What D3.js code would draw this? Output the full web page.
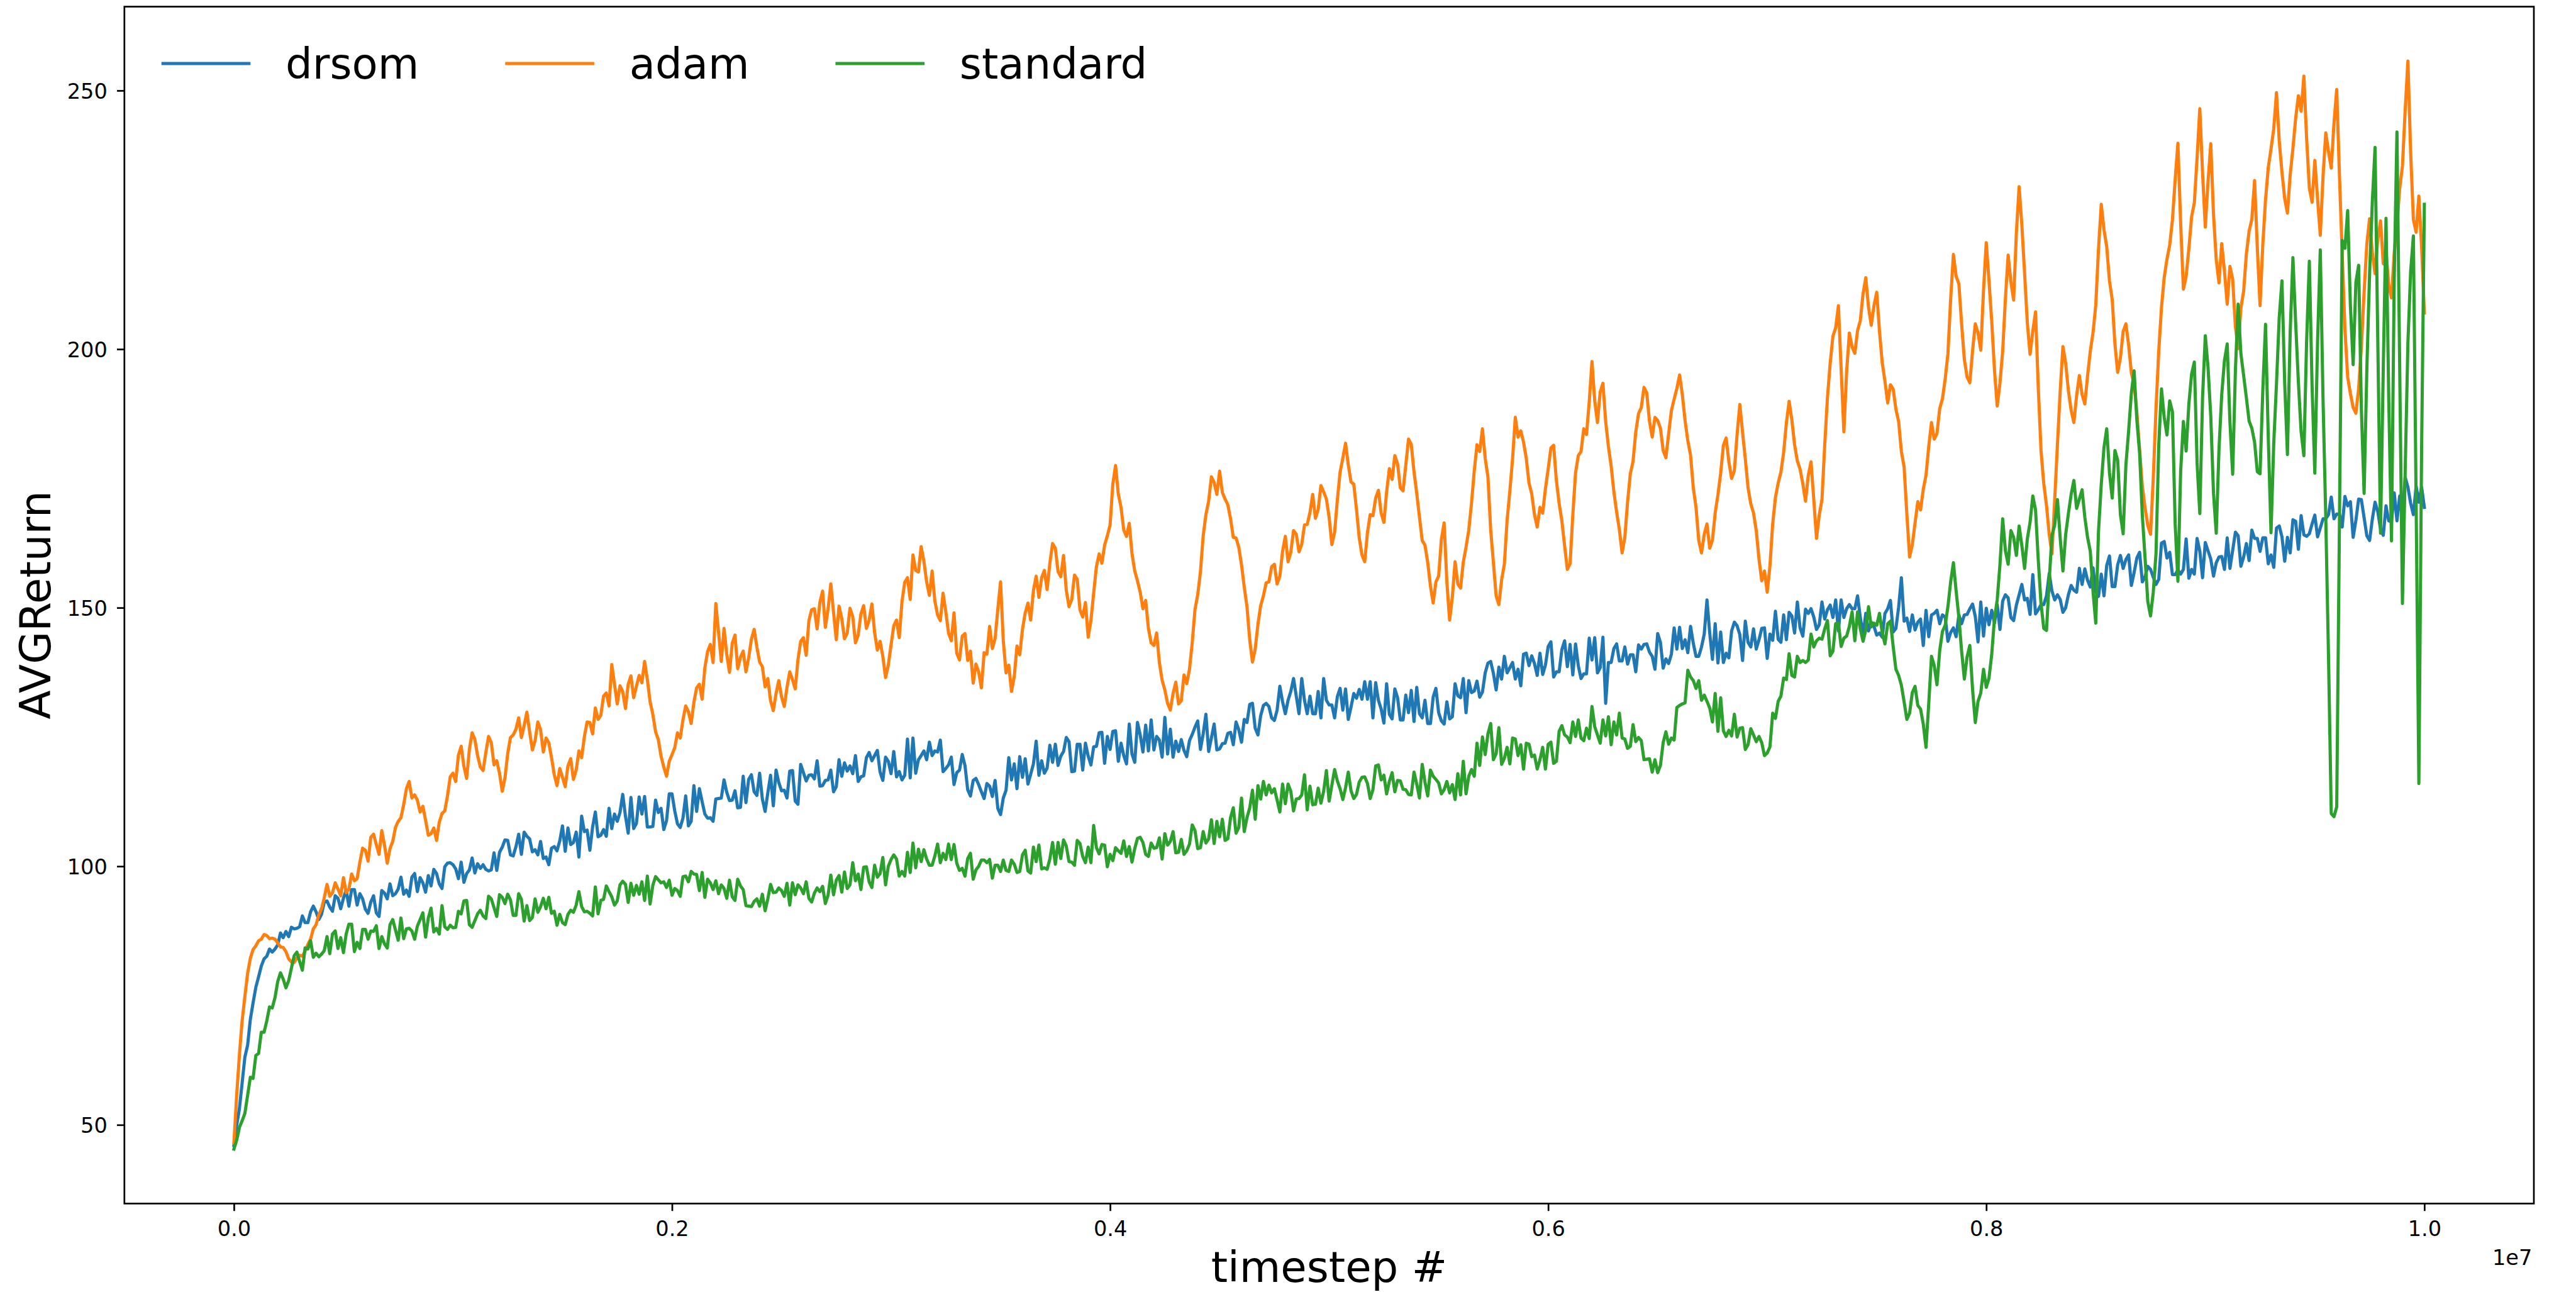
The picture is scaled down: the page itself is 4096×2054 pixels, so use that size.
<!DOCTYPE html>
<html>
<head>
<meta charset="utf-8">
<script src="https://cdn.jsdelivr.net/npm/d3@7"></script>
<style>
  html, body { margin: 0; padding: 0; background: #ffffff; }
  svg { display: block; }
</style>
</head>
<body>
<svg id="chart" width="4096" height="2054"></svg>
<script>
// Average return logged every 12.5k timesteps over a 10M-step run, three optimisers.
const seriesNames = ["drsom", "adam", "standard"];
const seriesColors = ["#1f77b4", "#ff7f0e", "#2ca02c"];
const totalSteps = 1e7;

const drsom = [
  46.0, 49.9, 53.1, 58.1, 63.1, 65.4, 70.4, 73.6, 76.6, 78.6, 80.7, 82.1, 82.6, 84.0, 83.4, 84.0, 84.8, 87.1, 86.2, 87.4, 86.4, 88.2, 87.9, 88.0, 88.3, 90.4, 89.1, 89.1, 91.2, 92.3, 91.2, 89.7, 90.7, 93.1, 93.3, 92.1, 91.3, 94.3, 93.8, 91.8,
  93.8, 95.4, 92.3, 95.5, 95.5, 92.5, 94.7, 93.7, 91.7, 90.9, 93.1, 94.3, 91.0, 90.3, 95.3, 94.8, 93.7, 96.6, 94.3, 94.7, 95.6, 97.9, 94.6, 95.4, 94.2, 97.9, 98.6, 95.1, 97.8, 96.8, 95.0, 98.2, 96.2, 99.4, 98.6, 96.6, 95.7, 99.9, 100.6, 100.7,
  100.3, 99.5, 97.6, 100.8, 96.9, 98.6, 99.3, 101.6, 98.7, 100.5, 99.6, 100.3, 99.4, 99.1, 99.3, 102.6, 99.2, 102.7, 103.7, 105.1, 105.0, 102.2, 102.0, 103.8, 106.2, 102.3, 106.6, 105.8, 105.3, 102.8, 103.2, 102.2, 104.8, 101.5, 101.8, 100.3, 103.5, 103.8, 103.0, 104.9,
  107.8, 102.9, 107.4, 104.2, 104.6, 106.6, 101.8, 109.7, 106.7, 107.0, 103.1, 107.6, 110.5, 105.7, 106.0, 107.1, 105.8, 111.2, 107.3, 110.1, 108.7, 110.4, 113.9, 109.7, 106.4, 113.3, 107.3, 108.3, 113.4, 110.1, 113.5, 107.6, 107.6, 107.7, 112.8, 110.4, 111.2, 107.1, 108.8, 114.0,
  114.0, 110.7, 108.2, 107.5, 109.3, 113.6, 107.8, 108.7, 115.6, 110.6, 115.0, 112.5, 110.1, 109.3, 109.4, 108.7, 113.0, 113.1, 113.2, 116.7, 114.3, 112.7, 112.8, 114.6, 111.3, 111.4, 117.4, 112.3, 116.8, 117.7, 114.4, 113.7, 118.0, 113.0, 110.6, 114.2, 117.6, 111.7, 118.6, 116.2,
  114.6, 114.7, 113.2, 118.4, 118.5, 112.6, 112.0, 119.7, 118.1, 116.5, 117.6, 117.7, 116.9, 120.4, 115.5, 115.6, 116.6, 116.7, 118.6, 114.4, 115.4, 120.6, 117.4, 120.0, 118.4, 119.4, 117.9, 121.4, 116.4, 117.3, 117.5, 121.0, 122.0, 120.4, 121.4, 122.4, 118.2, 116.6, 121.1, 120.3,
  117.9, 122.2, 117.3, 118.3, 116.7, 117.6, 124.6, 117.1, 124.8, 118.0, 120.6, 121.4, 122.3, 120.6, 124.0, 121.4, 122.3, 122.1, 124.4, 118.3, 118.9, 119.6, 121.1, 115.8, 118.1, 118.6, 121.6, 119.5, 114.8, 113.6, 116.6, 117.0, 115.8, 114.4, 113.1, 116.0, 115.5, 113.5, 116.6, 111.2,
  110.0, 113.2, 114.7, 121.0, 116.7, 119.8, 115.0, 121.2, 117.2, 120.8, 115.9, 117.8, 119.8, 124.2, 117.6, 120.4, 118.0, 119.0, 123.4, 120.1, 123.6, 119.5, 121.3, 122.2, 124.9, 124.1, 118.3, 118.4, 123.6, 123.6, 118.6, 123.8, 121.3, 119.6, 123.1, 123.2, 125.8, 125.9, 119.9, 125.1,
  122.6, 126.1, 126.2, 120.3, 123.8, 121.4, 119.8, 127.5, 121.7, 120.1, 127.8, 125.4, 122.1, 127.3, 122.3, 128.3, 122.5, 125.1, 124.4, 121.1, 128.8, 121.7, 126.5, 121.1, 124.2, 122.2, 124.5, 122.4, 121.2, 124.3, 125.5, 126.9, 128.1, 122.6, 125.6, 129.4, 122.2, 124.8, 127.5, 122.5,
  122.7, 123.7, 123.8, 125.7, 125.9, 123.5, 127.9, 126.4, 124.0, 128.4, 127.8, 131.3, 131.5, 126.7, 125.4, 129.1, 131.1, 131.5, 130.9, 128.7, 128.2, 130.2, 134.8, 131.8, 129.5, 132.1, 133.8, 136.3, 132.9, 129.5, 136.3, 132.1, 129.5, 132.9, 129.5, 129.5, 133.8, 128.7, 136.3, 132.1,
  131.2, 131.2, 128.7, 132.8, 134.4, 130.2, 134.3, 128.4, 130.8, 133.4, 132.5, 134.2, 132.3, 135.7, 132.3, 135.7, 128.7, 135.5, 132.1, 130.4, 127.7, 135.3, 129.4, 128.5, 134.3, 132.6, 128.3, 128.3, 133.1, 129.7, 134.0, 128.0, 134.6, 129.5, 128.7, 132.1, 127.6, 127.6, 132.7, 134.4,
  129.7, 128.1, 127.5, 131.8, 128.5, 128.9, 135.3, 133.0, 132.6, 136.3, 129.7, 135.9, 133.6, 133.9, 135.8, 132.7, 133.7, 137.4, 139.3, 139.6, 137.3, 134.1, 138.5, 136.2, 140.6, 137.4, 138.4, 139.4, 136.2, 138.1, 134.9, 141.0, 141.2, 138.8, 140.7, 139.2, 136.9, 141.2, 137.1, 138.9,
  142.5, 143.4, 136.6, 137.6, 137.6, 141.9, 143.6, 138.6, 142.9, 137.0, 143.0, 138.8, 136.3, 137.2, 137.2, 144.1, 139.9, 144.2, 137.4, 138.4, 144.3, 131.5, 139.4, 139.4, 142.1, 143.0, 139.7, 139.7, 142.4, 139.1, 140.9, 140.9, 137.6, 142.8, 142.0, 142.9, 143.0, 141.4, 140.6, 138.1,
  145.0, 143.3, 138.3, 140.1, 139.2, 141.0, 146.1, 142.0, 146.2, 142.1, 143.8, 141.3, 146.4, 143.1, 140.6, 140.6, 142.4, 144.9, 151.5, 145.1, 140.0, 146.9, 139.3, 145.3, 139.4, 141.2, 140.3, 145.5, 147.2, 146.5, 144.8, 139.8, 147.4, 143.3, 142.4, 145.9, 142.0, 143.8, 146.0, 146.1,
  140.2, 144.9, 143.7, 149.3, 143.9, 143.3, 148.6, 143.8, 149.1, 148.4, 145.1, 151.1, 146.1, 144.5, 149.7, 148.9, 149.8, 148.2, 145.8, 146.7, 151.1, 147.8, 149.6, 150.5, 148.1, 151.5, 145.5, 151.5, 148.1, 149.8, 150.6, 149.8, 149.8, 152.3, 148.1, 144.7, 148.9, 145.5, 147.2, 146.4,
  144.7, 145.1, 144.3, 148.9, 149.8, 151.4, 145.3, 146.0, 150.1, 155.8, 147.4, 148.0, 145.4, 148.6, 145.7, 147.2, 147.8, 142.7, 149.5, 144.4, 148.6, 148.9, 149.5, 146.9, 148.6, 148.2, 143.5, 145.2, 146.1, 144.4, 148.6, 146.9, 148.6, 148.7, 149.8, 150.7, 148.3, 143.4, 151.1, 144.5,
  149.9, 146.7, 149.5, 147.0, 150.6, 145.8, 151.3, 152.5, 151.9, 148.1, 147.5, 150.5, 152.5, 154.5, 151.5, 151.8, 148.7, 156.4, 148.8, 149.6, 150.6, 150.6, 152.3, 156.6, 153.2, 151.5, 152.5, 151.6, 149.1, 150.0, 152.5, 154.3, 153.4, 153.0, 157.6, 154.5, 157.5, 155.3, 154.0, 157.7,
  153.0, 152.2, 156.5, 152.3, 158.2, 160.0, 154.1, 154.1, 158.3, 160.1, 157.6, 159.3, 160.2, 154.3, 156.8, 159.6, 160.7, 155.0, 156.0, 158.0, 157.4, 155.9, 154.5, 155.5, 162.5, 162.8, 159.6, 160.7, 156.4, 156.4, 157.3, 156.5, 157.4, 163.3, 155.7, 157.4, 156.5, 163.4, 160.9, 155.8,
  162.6, 161.0, 159.4, 156.1, 158.7, 159.8, 159.9, 157.4, 163.5, 157.6, 161.1, 164.6, 163.9, 158.0, 159.8, 162.4, 159.1, 165.0, 163.4, 163.4, 160.9, 163.5, 163.5, 158.5, 160.2, 157.8, 165.4, 165.8, 163.7, 159.0, 163.6, 160.6, 167.0, 166.7, 161.3, 167.8, 164.1, 163.8, 164.3, 166.2,
  167.9, 163.7, 165.4, 167.2, 167.2, 168.0, 171.4, 167.2, 168.1, 168.1, 165.6, 171.5, 169.7, 170.5, 163.6, 166.9, 171.0, 170.9, 167.4, 163.9, 163.0, 167.1, 170.4, 168.6, 165.2, 164.0, 169.7, 166.8, 166.6, 172.2, 166.8, 171.6, 167.1, 175.2, 173.3, 170.2, 168.0, 173.5, 170.4, 173.3, 169.4
];

const adam = [
  46.5, 55.6, 63.5, 70.1, 74.8, 79.3, 82.2, 83.9, 84.6, 85.6, 85.9, 86.8, 86.6, 86.0, 86.1, 85.9, 85.2, 84.4, 84.3, 83.5, 82.1, 81.5, 81.4, 82.3, 82.8, 82.6, 83.6, 84.9, 85.9, 87.9, 88.7, 90.6, 91.8, 93.9, 96.5, 94.2, 94.9, 96.8, 95.6, 94.3,
  97.8, 94.9, 95.6, 98.5, 97.2, 97.6, 100.8, 103.5, 103.1, 101.0, 105.6, 106.2, 104.2, 102.3, 106.9, 104.1, 100.6, 103.4, 104.8, 107.5, 108.7, 109.4, 111.9, 115.0, 116.4, 113.2, 113.8, 112.8, 110.5, 111.6, 108.9, 106.0, 106.3, 107.4, 105.0, 108.5, 110.2, 110.7, 113.6, 117.3,
  118.0, 116.4, 121.5, 123.2, 119.3, 117.0, 122.6, 125.8, 124.5, 121.4, 119.2, 118.5, 122.0, 125.1, 123.9, 119.6, 120.4, 118.0, 114.5, 117.1, 121.8, 124.9, 125.4, 126.5, 128.7, 124.9, 127.2, 129.8, 126.0, 122.5, 124.3, 127.9, 126.4, 122.1, 124.8, 123.9, 121.0, 117.7, 115.6, 118.9,
  117.2, 115.4, 119.4, 120.8, 116.8, 118.6, 122.3, 121.0, 125.1, 127.9, 127.8, 125.6, 130.6, 128.4, 129.2, 132.9, 133.5, 131.0, 139.0, 135.2, 131.4, 134.9, 133.8, 130.5, 135.2, 136.8, 132.6, 134.8, 136.9, 135.5, 139.6, 136.1, 131.8, 129.4, 126.0, 124.5, 121.3, 119.2, 117.4, 120.3,
  121.6, 122.9, 125.8, 124.8, 128.3, 131.0, 129.9, 127.6, 131.7, 134.5, 135.2, 132.3, 138.4, 141.5, 142.9, 139.4, 150.8, 145.3, 139.6, 146.0, 141.0, 137.5, 143.1, 144.7, 138.2, 140.4, 141.6, 137.6, 140.3, 143.9, 145.8, 142.4, 139.5, 138.6, 134.7, 136.3, 132.0, 130.1, 133.4, 135.9,
  132.8, 130.9, 134.6, 137.6, 136.1, 134.3, 139.9, 143.5, 144.2, 140.8, 147.5, 149.6, 149.8, 145.9, 151.0, 153.2, 146.2, 149.7, 154.6, 149.1, 143.8, 150.3, 147.9, 144.0, 145.1, 149.9, 148.3, 143.2, 144.7, 148.8, 150.4, 146.0, 147.6, 150.7, 145.2, 141.8, 143.5, 140.6, 136.5, 138.9,
  142.8, 146.5, 147.6, 144.2, 151.2, 154.9, 155.8, 151.6, 160.2, 157.2, 156.9, 161.8, 159.0, 155.0, 152.4, 157.1, 151.3, 148.6, 147.5, 152.8, 149.2, 145.1, 143.6, 149.0, 141.2, 139.9, 144.5, 145.0, 139.8, 141.6, 135.4, 139.1, 137.6, 134.5, 141.3, 141.0, 146.4, 142.1, 144.0, 149.7,
  155.0, 143.6, 137.4, 138.9, 133.8, 136.7, 142.6, 140.9, 145.8, 149.0, 150.9, 147.6, 153.3, 156.1, 152.0, 155.8, 157.2, 153.5, 158.6, 162.4, 161.5, 157.0, 156.0, 160.1, 153.4, 150.2, 151.6, 156.3, 155.5, 149.6, 148.2, 151.0, 144.3, 147.5, 152.8, 157.9, 160.4, 158.6, 162.1, 163.9,
  166.0, 173.9, 177.5, 172.0, 169.4, 165.0, 163.8, 166.3, 160.5, 157.1, 155.2, 153.0, 149.8, 151.4, 146.0, 143.2, 142.7, 145.1, 139.4, 136.0, 134.1, 131.5, 130.2, 133.4, 135.6, 131.4, 132.0, 137.0, 135.3, 138.1, 143.2, 149.6, 152.5, 156.9, 163.9, 168.0, 170.6, 175.3, 174.2, 171.9,
  176.4, 172.3, 171.0, 169.9, 167.2, 163.6, 163.5, 161.7, 158.3, 154.0, 150.2, 143.8, 139.5, 142.0, 146.8, 150.4, 152.3, 154.8, 155.0, 157.9, 158.4, 154.6, 156.1, 160.9, 163.8, 158.9, 160.7, 164.9, 164.2, 160.8, 162.3, 166.0, 166.1, 168.4, 171.9, 167.3, 169.0, 173.6, 172.4, 171.0,
  167.5, 162.2, 164.6, 170.8, 176.2, 178.9, 181.8, 177.6, 174.3, 173.9, 169.0, 163.5, 160.2, 158.9, 164.5, 168.0, 167.8, 171.2, 172.7, 168.3, 166.5, 172.4, 176.9, 174.8, 179.4, 177.8, 173.2, 172.6, 177.6, 182.6, 181.6, 176.3, 172.1, 167.5, 163.0, 162.1, 158.8, 154.2, 150.9, 155.0,
  156.1, 163.2, 166.4, 155.0, 147.6, 152.0, 158.9, 154.6, 153.8, 158.8, 161.7, 165.0, 170.2, 176.4, 181.5, 180.2, 184.6, 178.9, 175.3, 165.1, 158.7, 152.3, 150.6, 155.4, 158.4, 166.9, 172.5, 178.8, 186.8, 183.0, 184.2, 182.0, 178.9, 174.1, 172.0, 168.0, 165.6, 169.4, 168.3, 173.0,
  176.8, 180.9, 181.4, 174.6, 170.2, 166.8, 162.0, 157.4, 158.5, 167.9, 176.1, 179.4, 180.2, 184.6, 183.5, 189.8, 197.6, 190.0, 185.8, 191.7, 193.4, 186.0, 181.2, 177.4, 172.4, 168.5, 165.1, 160.6, 163.6, 170.4, 175.9, 178.3, 184.0, 187.5, 188.7, 192.6, 191.5, 186.1, 183.0, 186.8,
  186.2, 184.7, 180.4, 179.0, 183.6, 188.1, 190.3, 192.4, 195.0, 191.2, 186.2, 182.3, 179.5, 173.2, 169.4, 163.0, 160.6, 164.2, 166.2, 161.5, 163.1, 168.3, 171.8, 176.0, 181.4, 182.8, 178.2, 175.0, 176.5, 183.5, 189.3, 183.9, 178.8, 173.2, 170.1, 168.3, 164.9, 159.4, 155.2, 157.1,
  153.0, 158.1, 166.2, 171.3, 174.1, 176.2, 180.0, 185.7, 189.9, 186.3, 181.5, 178.4, 176.8, 174.0, 170.6, 175.6, 178.2, 171.0, 163.4, 167.9, 170.9, 181.4, 190.6, 197.3, 202.5, 204.1, 208.4, 196.2, 184.0, 195.6, 203.1, 200.4, 199.2, 203.6, 205.5, 210.7, 213.8, 208.1, 204.6, 208.4,
  211.0, 203.5, 197.4, 193.8, 189.6, 193.1, 192.3, 188.4, 186.0, 180.2, 177.2, 168.1, 159.8, 162.2, 166.4, 170.5, 168.9, 172.9, 175.6, 181.2, 185.8, 182.6, 183.7, 188.5, 190.4, 194.2, 199.1, 209.7, 218.3, 214.1, 212.6, 204.9, 198.0, 194.6, 193.5, 199.7, 204.9, 203.1, 199.8, 211.4,
  220.6, 213.2, 205.4, 196.0, 189.0, 193.4, 199.6, 209.8, 218.2, 213.0, 209.5, 222.5, 231.4, 224.0, 214.7, 205.1, 199.0, 203.5, 207.2, 192.6, 180.4, 174.0, 169.8, 164.2, 160.4, 170.9, 181.6, 191.8, 200.5, 197.3, 192.0, 188.2, 185.8, 191.0, 194.9, 191.2, 189.4, 194.8, 199.6, 203.2,
  208.5, 219.4, 228.0, 223.1, 219.8, 213.2, 209.6, 201.0, 195.5, 198.3, 203.4, 204.9, 200.8, 195.4, 193.2, 187.8, 180.6, 173.5, 169.3, 165.9, 164.2, 175.0, 188.5, 199.6, 208.1, 213.9, 217.4, 220.1, 225.0, 232.8, 239.8, 224.3, 211.6, 214.1, 219.4, 225.6, 228.3, 237.0, 246.5, 234.1,
  223.6, 232.4, 239.7, 226.0, 217.3, 212.8, 220.4, 215.1, 208.7, 216.0, 213.5, 204.3, 200.1, 207.9, 211.2, 218.4, 222.8, 225.1, 232.6, 219.6, 208.4, 220.2, 228.9, 235.1, 238.7, 242.6, 249.6, 240.3, 234.2, 229.1, 226.3, 233.7, 238.8, 244.6, 249.0, 246.0, 252.8, 240.8, 231.2, 228.4,
  236.5, 229.1, 222.0, 233.4, 241.8, 238.2, 235.0, 243.7, 250.2, 233.5, 218.4, 203.9, 194.6, 191.4, 188.7, 187.6, 192.3, 200.4, 211.0, 220.3, 225.2, 218.7, 214.6, 221.2, 224.8, 216.5, 219.0, 212.4, 209.9, 218.6, 224.0, 231.1, 235.4, 246.2, 255.7, 238.0, 225.1, 222.6, 229.6, 219.8, 207.0
];

const standard = [
  45.3, 47.0, 49.5, 50.8, 52.2, 55.7, 59.2, 59.0, 63.4, 63.8, 67.9, 67.9, 70.1, 72.8, 72.6, 74.6, 77.7, 79.4, 78.2, 76.5, 77.9, 80.3, 82.7, 83.4, 81.6, 79.9, 84.2, 84.0, 85.6, 82.4, 83.2, 82.5, 83.0, 83.7, 86.4, 83.1, 86.9, 87.5, 84.1, 86.2,
  83.3, 86.9, 88.8, 88.8, 83.5, 85.3, 84.1, 87.8, 87.8, 85.9, 87.5, 87.4, 88.5, 84.1, 86.4, 85.0, 84.2, 88.7, 89.7, 87.7, 85.7, 90.0, 86.0, 87.9, 88.0, 87.5, 85.9, 88.4, 89.7, 91.0, 86.3, 90.0, 91.9, 87.3, 88.0, 86.9, 92.4, 88.3, 87.8, 88.6,
  88.1, 88.2, 91.3, 90.8, 93.3, 93.4, 88.7, 88.2, 89.5, 90.8, 91.5, 90.4, 89.9, 94.2, 93.7, 92.0, 90.3, 94.5, 94.0, 92.8, 94.6, 93.5, 90.5, 90.5, 94.7, 93.6, 89.4, 92.4, 89.5, 90.1, 93.7, 91.1, 92.2, 93.8, 91.8, 94.0, 90.9, 91.3, 88.6, 90.7,
  89.1, 88.7, 90.7, 91.5, 91.1, 92.5, 95.1, 92.2, 91.2, 91.3, 90.9, 90.4, 96.0, 90.8, 93.4, 93.6, 96.2, 95.1, 94.1, 92.5, 93.3, 96.4, 97.1, 96.5, 93.0, 96.7, 94.4, 96.3, 94.6, 97.0, 93.4, 98.1, 92.7, 96.3, 98.0, 97.4, 96.8, 97.0, 95.9, 97.3,
  94.4, 95.7, 95.3, 94.2, 98.0, 98.1, 97.0, 99.0, 98.5, 98.4, 95.3, 98.8, 94.0, 97.5, 96.8, 95.5, 97.2, 94.7, 96.4, 95.7, 93.8, 97.3, 94.1, 93.4, 97.5, 96.2, 95.5, 92.4, 92.3, 92.2, 93.2, 93.7, 92.3, 94.6, 91.4, 93.7, 96.5, 94.9, 95.0, 95.8,
  95.3, 94.2, 96.7, 92.5, 96.8, 94.5, 96.4, 95.8, 94.7, 97.0, 93.8, 93.1, 94.8, 95.8, 95.1, 96.1, 92.8, 94.4, 98.3, 94.5, 97.3, 98.2, 95.0, 98.9, 95.7, 96.4, 100.7, 97.2, 98.5, 95.5, 99.8, 99.9, 97.0, 95.9, 100.2, 97.9, 98.6, 101.7, 96.4, 100.0,
  101.3, 102.2, 101.4, 98.1, 99.0, 98.1, 102.7, 98.8, 104.5, 99.7, 103.3, 100.9, 103.2, 101.4, 100.2, 100.2, 102.0, 104.3, 100.7, 102.5, 101.3, 104.3, 101.3, 104.2, 100.6, 99.2, 99.6, 98.1, 101.5, 102.5, 97.5, 99.3, 100.0, 101.2, 101.2, 100.7, 101.3, 97.7, 100.2, 100.2,
  99.0, 101.2, 99.2, 99.0, 101.2, 100.4, 98.8, 99.0, 102.2, 103.1, 99.1, 98.7, 103.7, 100.9, 104.1, 99.5, 99.7, 99.4, 101.4, 104.6, 100.4, 104.6, 101.5, 105.1, 103.9, 100.9, 100.8, 100.2, 105.0, 104.4, 101.9, 100.7, 103.7, 100.7, 107.9, 103.6, 102.4, 104.2, 104.1, 99.9,
  102.3, 101.1, 103.6, 103.0, 102.5, 104.9, 101.9, 103.8, 100.8, 103.4, 105.4, 105.6, 104.6, 102.3, 101.9, 104.5, 103.5, 103.6, 105.5, 101.4, 106.3, 104.1, 104.8, 106.7, 102.6, 102.7, 105.2, 102.3, 103.0, 104.3, 108.0, 106.9, 103.4, 103.6, 106.7, 104.5, 105.3, 109.0, 104.4, 108.7,
  105.7, 109.1, 105.0, 105.3, 109.4, 111.3, 106.4, 107.5, 113.2, 106.7, 109.4, 111.3, 114.7, 109.1, 115.6, 113.0, 116.4, 113.8, 115.7, 114.2, 115.0, 112.8, 110.5, 115.9, 112.1, 115.9, 114.5, 110.7, 113.0, 113.1, 113.8, 117.7, 110.9, 115.5, 111.9, 112.0, 115.1, 112.2, 114.5, 118.5,
  112.6, 115.7, 118.7, 116.5, 115.0, 112.9, 115.2, 118.2, 114.6, 113.1, 113.9, 116.3, 117.2, 117.3, 116.0, 113.1, 114.8, 119.4, 119.6, 116.7, 117.6, 114.0, 116.4, 118.1, 114.4, 116.6, 116.5, 114.9, 114.8, 113.9, 113.8, 118.2, 115.9, 113.2, 119.7, 116.3, 113.6, 118.6, 117.4, 116.8,
  116.1, 114.0, 114.8, 116.4, 114.2, 115.8, 112.9, 117.9, 113.8, 120.3, 114.0, 117.4, 118.7, 117.4, 123.8, 119.5, 125.0, 121.6, 125.6, 127.6, 120.6, 121.8, 126.8, 119.7, 120.9, 123.0, 119.8, 124.8, 124.6, 121.4, 123.5, 118.8, 123.8, 123.6, 121.2, 121.5, 118.8, 120.6, 123.0, 118.8,
  123.6, 124.0, 119.9, 120.3, 126.1, 127.2, 125.4, 125.0, 123.9, 127.9, 125.1, 128.3, 124.8, 124.3, 126.7, 124.7, 130.9, 127.0, 125.4, 123.8, 128.3, 125.2, 128.9, 123.5, 127.9, 125.4, 129.6, 124.8, 124.6, 122.8, 123.2, 127.4, 124.1, 124.9, 124.3, 120.6, 120.7, 120.8, 118.2, 120.6,
  118.1, 119.5, 123.9, 126.0, 123.6, 124.8, 124.4, 130.7, 131.1, 131.4, 131.6, 137.9, 136.6, 135.9, 134.4, 135.9, 132.1, 133.1, 131.9, 130.6, 127.9, 133.4, 126.1, 132.6, 126.2, 125.1, 126.3, 125.2, 129.4, 125.0, 126.7, 126.8, 122.6, 123.5, 126.6, 125.4, 124.1, 125.1, 123.9, 121.4,
  121.9, 123.1, 129.6, 128.6, 131.9, 132.9, 136.4, 136.1, 141.1, 136.9, 136.6, 140.6, 139.4, 139.8, 139.4, 139.9, 144.9, 142.4, 143.6, 144.1, 143.9, 145.9, 147.5, 140.7, 141.6, 146.9, 147.0, 142.5, 144.1, 144.5, 146.4, 149.2, 143.6, 149.2, 145.9, 143.5, 145.7, 150.2, 146.3, 147.0,
  146.6, 148.9, 145.2, 143.0, 146.9, 147.4, 142.5, 138.1, 136.9, 135.0, 131.8, 128.4, 129.6, 133.6, 134.8, 131.1, 130.4, 127.5, 123.0, 131.5, 140.6, 138.8, 135.1, 141.7, 145.4, 146.6, 150.2, 155.0, 158.7, 153.2, 148.1, 141.6, 136.2, 140.5, 142.7, 134.2, 127.8, 131.9, 133.5, 138.1,
  134.6, 136.4, 141.0, 147.9, 151.5, 158.3, 167.2, 161.0, 158.4, 164.9, 163.6, 160.1, 165.8, 162.0, 157.6, 163.3, 166.5, 171.6, 168.9, 159.2, 150.8, 146.0, 145.6, 155.3, 164.0, 166.0, 170.9, 163.5, 157.1, 164.1, 168.2, 171.9, 174.6, 169.2, 171.0, 172.8, 167.5, 163.6, 160.9, 153.1,
  147.0, 164.8, 173.8, 181.0, 184.6, 176.1, 171.2, 180.4, 178.5, 168.0, 164.3, 177.6, 184.2, 191.5, 195.8, 186.3, 180.0, 167.9, 159.6, 151.2, 148.4, 153.0, 160.5, 181.4, 192.3, 186.8, 183.4, 190.0, 187.9, 166.2, 155.1, 176.4, 186.0, 180.3, 189.4, 195.2, 197.5, 178.0, 168.2, 190.7,
  202.6, 196.5, 187.0, 172.1, 164.4, 180.6, 191.2, 197.8, 201.0, 185.9, 175.8, 196.0, 208.7, 199.1, 194.9, 190.6, 186.1, 184.7, 182.0, 176.3, 175.9, 192.0, 204.8, 183.0, 164.5, 181.8, 193.3, 206.1, 213.2, 193.4, 179.6, 203.2, 217.7, 205.1, 193.6, 184.0, 179.4, 201.5, 217.0, 192.8,
  176.0, 201.4, 219.2, 190.3, 167.4, 140.6, 110.2, 109.6, 111.5, 167.0, 221.0, 219.5, 226.8, 208.4, 197.0, 212.9, 216.2, 188.5, 172.1, 196.1, 214.6, 228.4, 239.0, 201.7, 164.4, 196.2, 225.3, 190.4, 162.9, 213.6, 242.0, 196.4, 150.8, 176.3, 201.2, 215.0, 221.9, 170.4, 116.0, 180.6, 228.0
];

const xTickValues = [0, 2e6, 4e6, 6e6, 8e6, 1e7];
const yTickValues = [50, 100, 150, 200, 250];
const xLabelText = "timestep #";
const yLabelText = "AVGReturn";
const xOffsetText = "1e7";

// ---------------------------------------------------------------- layout
const FONT = "'DejaVu Sans', 'Liberation Sans', sans-serif";
const box = { left: 197.8, right: 4029.0, top: 10.6, bottom: 1913.4 };
const tickFont = 33.6, labelFont = 67.3, legendFont = 67.3;
const tickLen = 11.8, spineW = 2.69, lineW = 5.04;

const svg = d3.select("#chart");

const series = seriesNames.map((name, k) => ({
  name,
  color: seriesColors[k],
  values: [drsom, adam, standard][k]
}));

// scales with 5% margins around the data extent
const allValues = drsom.concat(adam, standard);
const [vMin, vMax] = d3.extent(allValues);
const vPad = (vMax - vMin) * 0.05;

const x = d3.scaleLinear()
  .domain([-0.05 * totalSteps, 1.05 * totalSteps])
  .range([box.left, box.right]);
const y = d3.scaleLinear()
  .domain([vMin - vPad, vMax + vPad])
  .range([box.bottom, box.top]);

svg.append("rect")
  .attr("width", 4096).attr("height", 2054).attr("fill", "#ffffff");

svg.append("defs").append("clipPath").attr("id", "plotArea")
  .append("rect")
  .attr("x", box.left).attr("y", box.top)
  .attr("width", box.right - box.left).attr("height", box.bottom - box.top);

// ---------------------------------------------------------------- lines
function seriesLine(values) {
  const step = totalSteps / (values.length - 1);
  return d3.line()
    .x((d, i) => x(i * step))
    .y(d => y(d))(values);
}

svg.append("g")
  .attr("clip-path", "url(#plotArea)")
  .selectAll("path")
  .data(series)
  .join("path")
  .attr("d", d => seriesLine(d.values))
  .attr("fill", "none")
  .attr("stroke", d => d.color)
  .attr("stroke-width", lineW)
  .attr("stroke-linejoin", "round")
  .attr("stroke-linecap", "square");

// ---------------------------------------------------------------- axes
function styleAxis(g) {
  g.select(".domain").remove();
  g.attr("font-family", FONT).attr("font-size", tickFont).attr("color", "#000000");
  g.selectAll(".tick line").attr("stroke-width", spineW);
  g.selectAll(".tick text").attr("fill", "#000000");
}

svg.append("g")
  .attr("transform", `translate(0,${box.bottom})`)
  .call(d3.axisBottom(x)
    .tickValues(xTickValues)
    .tickFormat(d => (d / 1e7).toFixed(1))
    .tickSize(tickLen)
    .tickPadding(15.6))
  .call(styleAxis);

svg.append("g")
  .attr("transform", `translate(${box.left},0)`)
  .call(d3.axisLeft(y)
    .tickValues(yTickValues)
    .tickFormat(d3.format("d"))
    .tickSize(tickLen)
    .tickPadding(15.2))
  .call(styleAxis)
  .call(g => g.selectAll(".tick text").attr("dy", "0.36em"));

// scale multiplier under the right end of the x axis
svg.append("text")
  .attr("x", 4026.4).attr("y", 2010.5)
  .attr("text-anchor", "end")
  .attr("font-family", FONT).attr("font-size", tickFont)
  .attr("fill", "#000000")
  .text(xOffsetText);

// axis titles
svg.append("text")
  .attr("x", (box.left + box.right) / 2).attr("y", 2038.3)
  .attr("text-anchor", "middle")
  .attr("font-family", FONT).attr("font-size", labelFont)
  .attr("fill", "#000000")
  .text(xLabelText);

svg.append("text")
  .attr("transform", `translate(79.7,${(box.top + box.bottom) / 2}) rotate(-90)`)
  .attr("text-anchor", "middle")
  .attr("font-family", FONT).attr("font-size", labelFont)
  .attr("fill", "#000000")
  .text(yLabelText);

// frame around the plotting area
svg.append("rect")
  .attr("x", box.left).attr("y", box.top)
  .attr("width", box.right - box.left).attr("height", box.bottom - box.top)
  .attr("fill", "none")
  .attr("stroke", "#000000")
  .attr("stroke-width", spineW);

// ---------------------------------------------------------------- legend
const legendY = 100.9, legendBase = 124.8;
const handleLen = 141.6, handlePad = 55.8, colGap = 137.0;
const legend = svg.append("g").attr("class", "legend");
let cursor = 256.7;
series.forEach(s => {
  legend.append("line")
    .attr("x1", cursor).attr("x2", cursor + handleLen)
    .attr("y1", legendY).attr("y2", legendY)
    .attr("stroke", s.color).attr("stroke-width", lineW);
  const t = legend.append("text")
    .attr("x", cursor + handleLen + handlePad).attr("y", legendBase)
    .attr("font-family", FONT).attr("font-size", legendFont)
    .attr("fill", "#000000")
    .text(s.name);
  cursor += handleLen + handlePad + t.node().getComputedTextLength() + colGap;
});
</script>
</body>
</html>
